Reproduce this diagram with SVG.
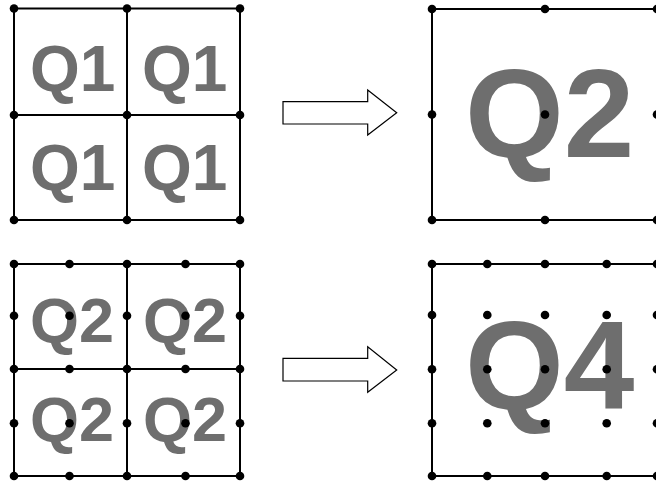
<svg xmlns="http://www.w3.org/2000/svg" width="656" height="484" viewBox="0 0 656 484">
  <style>
    .frame { fill: none; stroke: #000; stroke-width: 2; }
    .grid { stroke: #000; stroke-width: 2; }
    .lbl { font-family: "Liberation Sans", Arial, sans-serif; font-weight: bold; fill: #6e6e6e; }
    .pt { fill: #000; }
    .arrow { fill: #fff; stroke: #000; stroke-width: 1.2; stroke-linejoin: miter; }
  </style>
  <defs>
    <circle id="dot" r="4.3" class="pt"/>
  </defs>

  <!-- 2x2 cells, each Q1 -->
  <g id="grid-q1">
    <text class="lbl" font-size="64" x="30" y="91">Q1</text>
    <text class="lbl" font-size="64" x="142" y="91">Q1</text>
    <text class="lbl" font-size="64" x="30" y="190">Q1</text>
    <text class="lbl" font-size="64" x="142" y="190">Q1</text>
    <rect class="frame" x="14" y="8.5" width="226" height="211.5"/>
    <line class="grid" x1="127" y1="8.5" x2="127" y2="220"/>
    <line class="grid" x1="14" y1="115" x2="240" y2="115"/>
    <use href="#dot" x="14" y="8.5"/><use href="#dot" x="127" y="8.5"/><use href="#dot" x="240" y="8.5"/>
    <use href="#dot" x="14" y="115"/><use href="#dot" x="127" y="115"/><use href="#dot" x="240" y="115"/>
    <use href="#dot" x="14" y="220"/><use href="#dot" x="127" y="220"/><use href="#dot" x="240" y="220"/>
  </g>

  <!-- merged Q2 block -->
  <g id="block-q2">
    <text class="lbl" font-size="127" x="465" y="157">Q2</text>
    <rect class="frame" x="432" y="9" width="226" height="211"/>
    <use href="#dot" x="432" y="9"/><use href="#dot" x="545" y="9"/><use href="#dot" x="657" y="9"/>
    <use href="#dot" x="432" y="114.5"/><use href="#dot" x="545" y="114.5"/><use href="#dot" x="657" y="114.5"/>
    <use href="#dot" x="432" y="220"/><use href="#dot" x="545" y="220"/><use href="#dot" x="657" y="220"/>
  </g>

  <!-- 2x2 cells, each Q2 -->
  <g id="grid-q2">
    <text class="lbl" font-size="63" x="30" y="341.5">Q2</text>
    <text class="lbl" font-size="63" x="143" y="341.5">Q2</text>
    <text class="lbl" font-size="63" x="30" y="441">Q2</text>
    <text class="lbl" font-size="63" x="143" y="441">Q2</text>
    <rect class="frame" x="14" y="264" width="226" height="212"/>
    <line class="grid" x1="127" y1="264" x2="127" y2="476"/>
    <line class="grid" x1="14" y1="369" x2="240" y2="369"/>
    <g>
      <use href="#dot" x="14" y="264"/><use href="#dot" x="69.5" y="264"/><use href="#dot" x="127" y="264"/><use href="#dot" x="185.5" y="264"/><use href="#dot" x="240" y="264"/>
      <use href="#dot" x="14" y="315.7"/><use href="#dot" x="69.5" y="315.7"/><use href="#dot" x="127" y="315.7"/><use href="#dot" x="185.5" y="315.7"/><use href="#dot" x="240" y="315.7"/>
      <use href="#dot" x="14" y="369"/><use href="#dot" x="69.5" y="369"/><use href="#dot" x="127" y="369"/><use href="#dot" x="185.5" y="369"/><use href="#dot" x="240" y="369"/>
      <use href="#dot" x="14" y="423.3"/><use href="#dot" x="69.5" y="423.3"/><use href="#dot" x="127" y="423.3"/><use href="#dot" x="185.5" y="423.3"/><use href="#dot" x="240" y="423.3"/>
      <use href="#dot" x="14" y="476"/><use href="#dot" x="69.5" y="476"/><use href="#dot" x="127" y="476"/><use href="#dot" x="185.5" y="476"/><use href="#dot" x="240" y="476"/>
    </g>
  </g>

  <!-- merged Q4 block -->
  <g id="block-q4">
    <text class="lbl" font-size="127" x="465" y="409">Q4</text>
    <rect class="frame" x="432" y="264" width="226" height="212"/>
    <g>
      <use href="#dot" x="432" y="264"/><use href="#dot" x="487.3" y="264"/><use href="#dot" x="545" y="264"/><use href="#dot" x="606.7" y="264"/><use href="#dot" x="657" y="264"/>
      <use href="#dot" x="432" y="315"/><use href="#dot" x="487.3" y="315"/><use href="#dot" x="545" y="315"/><use href="#dot" x="606.7" y="315"/><use href="#dot" x="657" y="315"/>
      <use href="#dot" x="432" y="369.3"/><use href="#dot" x="487.3" y="369.3"/><use href="#dot" x="545" y="369.3"/><use href="#dot" x="606.7" y="369.3"/><use href="#dot" x="657" y="369.3"/>
      <use href="#dot" x="432" y="423.3"/><use href="#dot" x="487.3" y="423.3"/><use href="#dot" x="545" y="423.3"/><use href="#dot" x="606.7" y="423.3"/><use href="#dot" x="657" y="423.3"/>
      <use href="#dot" x="432" y="476"/><use href="#dot" x="487.3" y="476"/><use href="#dot" x="545" y="476"/><use href="#dot" x="606.7" y="476"/><use href="#dot" x="657" y="476"/>
    </g>
  </g>

  <!-- block arrows between stages -->
  <g id="connectors">
    <polygon class="arrow" points="283,101.7 367.7,101.7 367.7,90 396.7,112.7 367.7,135 367.7,124 283,124"/>
    <polygon class="arrow" points="283,358.3 367.7,358.3 367.7,346.7 396.7,370 367.7,392.3 367.7,381 283,381"/>
  </g>
</svg>
